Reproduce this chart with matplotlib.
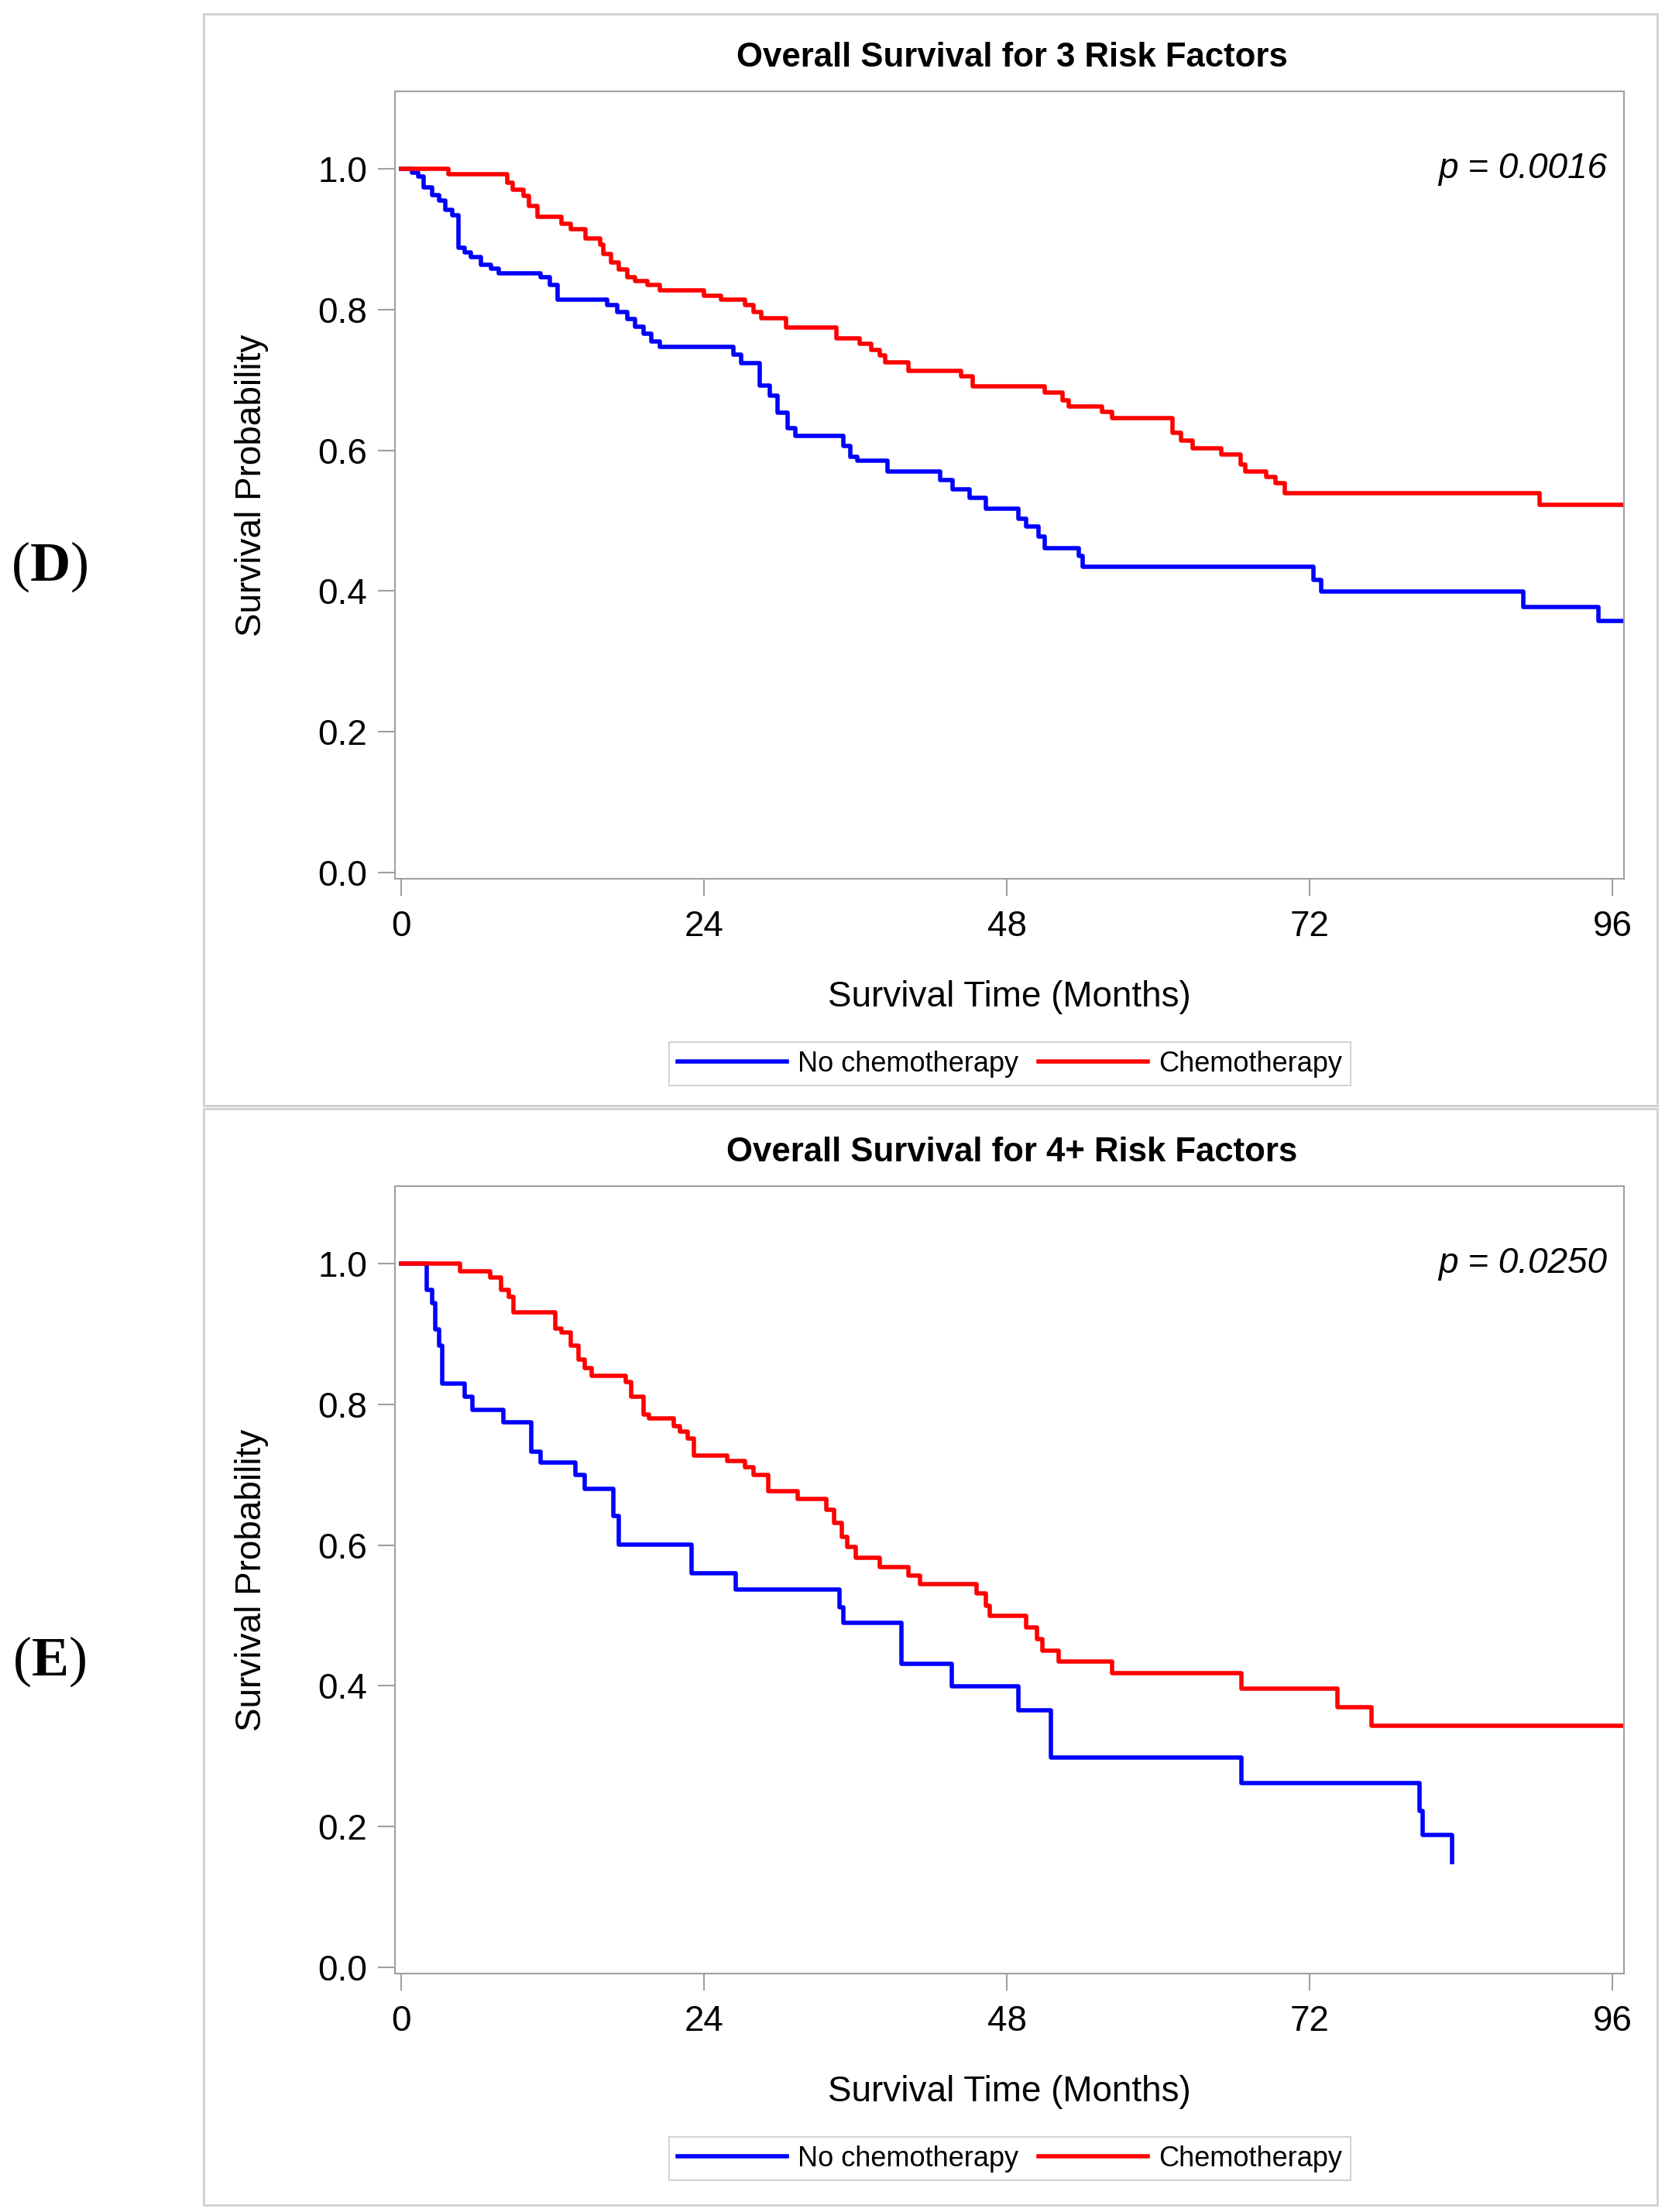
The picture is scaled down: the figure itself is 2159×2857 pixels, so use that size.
import matplotlib
matplotlib.use('Agg')
import matplotlib.pyplot as plt
from matplotlib.patches import Rectangle

plt.rcParams['font.family'] = ['Liberation Sans', 'DejaVu Sans']
plt.rcParams['mathtext.fontset'] = 'custom'
plt.rcParams['mathtext.bf'] = 'Liberation Serif:bold'

W, H = 2159, 2857

# ---- data ----
x_ticks = [0, 24, 48, 72, 96]
y_ticks = [0.0, 0.2, 0.4, 0.6, 0.8, 1.0]
group_names = ['No chemotherapy', 'Chemotherapy']

# (D) 3 risk factors
d_title = 'Overall Survival for 3 Risk Factors'
d_pval = 'p = 0.0016'
d_none_t = [0, 0.8, 1.3, 1.75, 2.4, 3.0, 3.5, 4.0, 4.5, 5.0, 5.5, 6.3, 7.1, 7.7, 11.0, 11.75,
            12.4, 16.3, 17.1, 17.9, 18.5, 19.2, 19.8, 20.5, 26.3, 26.9, 28.4, 29.2, 29.8, 30.6,
            31.2, 35.0, 35.6, 36.15, 38.5, 42.7, 43.7, 45.0, 46.3, 48.9, 49.5, 50.5, 51.0, 53.7,
            54.0, 72.3, 72.9, 88.9, 94.9, 97]
d_none_s = [1.0, 0.995, 0.989, 0.974, 0.963, 0.955, 0.942, 0.934, 0.888, 0.881, 0.875, 0.864,
            0.858, 0.852, 0.846, 0.835, 0.814, 0.806, 0.797, 0.787, 0.776, 0.766, 0.755, 0.747,
            0.736, 0.724, 0.692, 0.678, 0.654, 0.631, 0.621, 0.606, 0.591, 0.585, 0.570, 0.558,
            0.545, 0.532, 0.517, 0.503, 0.492, 0.477, 0.461, 0.450, 0.435, 0.416, 0.399, 0.377,
            0.357, 0.357]
d_chemo_t = [0, 3.7, 8.4, 8.8, 9.7, 10.1, 10.8, 12.7, 13.4, 14.6, 15.75, 16.0, 16.6, 17.2, 17.9,
             18.5, 19.5, 20.5, 24.0, 25.3, 27.2, 27.9, 28.5, 30.5, 34.5, 36.3, 37.25, 37.9, 38.35,
             40.15, 44.35, 45.3, 51.0, 52.4, 52.9, 55.5, 56.3, 61.1, 61.8, 62.7, 65.0, 66.5, 66.9,
             68.55, 69.3, 70.0, 90.2, 97]
d_chemo_s = [1.0, 0.992, 0.980, 0.970, 0.961, 0.947, 0.932, 0.922, 0.914, 0.901, 0.892, 0.879,
             0.867, 0.857, 0.846, 0.840, 0.835, 0.827, 0.820, 0.814, 0.806, 0.797, 0.788, 0.775,
             0.759, 0.751, 0.743, 0.735, 0.725, 0.713, 0.705, 0.691, 0.682, 0.671, 0.662, 0.655,
             0.646, 0.625, 0.614, 0.603, 0.594, 0.580, 0.570, 0.562, 0.553, 0.539, 0.522, 0.522]

# (E) 4+ risk factors
e_title = 'Overall Survival for 4+ Risk Factors'
e_pval = 'p = 0.0250'
e_none_t = [0, 2.0, 2.4, 2.7, 3.0, 3.2, 5.0, 5.6, 8.1, 10.3, 11.0, 13.8, 14.5, 16.8, 17.2, 23.0,
            26.5, 34.7, 35.0, 39.6, 43.6, 48.9, 51.45, 66.6, 80.7, 80.95, 83.3]
e_none_s = [1.0, 0.963, 0.944, 0.906, 0.883, 0.830, 0.811, 0.792, 0.774, 0.733, 0.717, 0.700,
            0.680, 0.641, 0.601, 0.560, 0.537, 0.512, 0.489, 0.431, 0.399, 0.365, 0.298, 0.262,
            0.222, 0.188, 0.150]
e_chemo_t = [0, 4.65, 7.0, 7.9, 8.5, 8.85, 12.2, 12.7, 13.4, 14.0, 14.5, 15.1, 17.75, 18.2, 19.2,
             19.6, 21.6, 22.1, 22.7, 23.2, 25.8, 27.2, 27.9, 29.05, 31.4, 33.7, 34.3, 34.9, 35.3,
             36.0, 37.9, 40.15, 41.1, 45.6, 46.3, 46.6, 49.5, 50.35, 50.8, 52.1, 56.3, 66.6, 74.2,
             76.9, 97]
e_chemo_s = [1.0, 0.989, 0.980, 0.963, 0.953, 0.931, 0.908, 0.902, 0.883, 0.864, 0.851, 0.841,
             0.832, 0.811, 0.786, 0.780, 0.769, 0.761, 0.751, 0.727, 0.719, 0.711, 0.700, 0.677,
             0.666, 0.650, 0.632, 0.612, 0.597, 0.582, 0.569, 0.557, 0.544, 0.531, 0.514, 0.499,
             0.483, 0.466, 0.450, 0.435, 0.418, 0.396, 0.370, 0.343, 0.343]

fig = plt.figure(figsize=(W / 100, H / 100), dpi=100)


def fx(x):
    return x / W


def fy(y):
    return 1 - y / H


def panel(off, box_bottom, letter, title, pval, t_none, s_none, t_chemo, s_chemo):
    # grey frame around the panel
    fig.patches.append(Rectangle((fx(263), fy(box_bottom)), fx(2140) - fx(263),
                                 fy(18 + off) - fy(box_bottom), transform=fig.transFigure,
                                 fill=False, edgecolor='#d3d3d3', linewidth=2.2))
    left, top, right, bottom = 510, 118 + off, 2097, 1135 + off
    ax = fig.add_axes([fx(left), fy(bottom), (right - left) / W, (bottom - top) / H])

    ax.step(t_none, s_none, where='post', color='#0000ff', lw=4, label=group_names[0])
    ax.step(t_chemo, s_chemo, where='post', color='#ff0000', lw=4, label=group_names[1])

    ax.set_xlim(-0.52, 96.9)
    ax.set_ylim(-0.0088, 1.11)
    ax.set_xticks(x_ticks)
    ax.set_yticks(y_ticks)
    ax.set_yticklabels([f'{v:.1f}' for v in y_ticks])
    for s in ax.spines.values():
        s.set_color('#a0a0a0')
        s.set_linewidth(1.5)
    ax.tick_params(direction='out', length=16, width=1.5, color='#a0a0a0', labelsize=33)
    ax.tick_params(axis='x', pad=13)
    ax.tick_params(axis='y', pad=10)

    ax.set_xlabel('Survival Time (Months)', fontsize=33)
    ax.xaxis.set_label_coords(0.5, (bottom - (1288 + off)) / (bottom - top))
    ax.xaxis.label.set_va('center')
    ax.set_ylabel('Survival Probability', fontsize=33)
    ax.yaxis.set_label_coords((325 - left) / (right - left), 0.5)
    ax.yaxis.label.set_va('center')

    ax.text((2075 - left) / (right - left), 1.0, pval, transform=ax.get_yaxis_transform(),
            ha='right', va='center', fontsize=33, style='italic')

    fig.text(fx((left + right) / 2 + 3), fy(75 + off), title, ha='center', va='center',
             fontsize=31.5, fontweight='bold')
    fig.text(fx(64), fy(732 + off), '($\\mathbf{' + letter + '}$)', ha='center', va='center',
             fontsize=52, family='Liberation Serif')

    leg = ax.legend(loc='center', bbox_to_anchor=(fx(1304), fy(1374 + off)),
                    bbox_transform=fig.transFigure, ncol=2, fontsize=26, frameon=True,
                    fancybox=False, edgecolor='#c8c8c8', handlelength=3.9, handletextpad=0.4,
                    columnspacing=0.7, borderpad=0.3, borderaxespad=0)
    leg.get_frame().set_linewidth(1.5)
    return ax


panel(0, 1428, 'D', d_title, d_pval, d_none_t, d_none_s, d_chemo_t, d_chemo_s)
panel(1414, 2848, 'E', e_title, e_pval, e_none_t, e_none_s, e_chemo_t, e_chemo_s)

fig.savefig('out.png', dpi=100, facecolor='white')
